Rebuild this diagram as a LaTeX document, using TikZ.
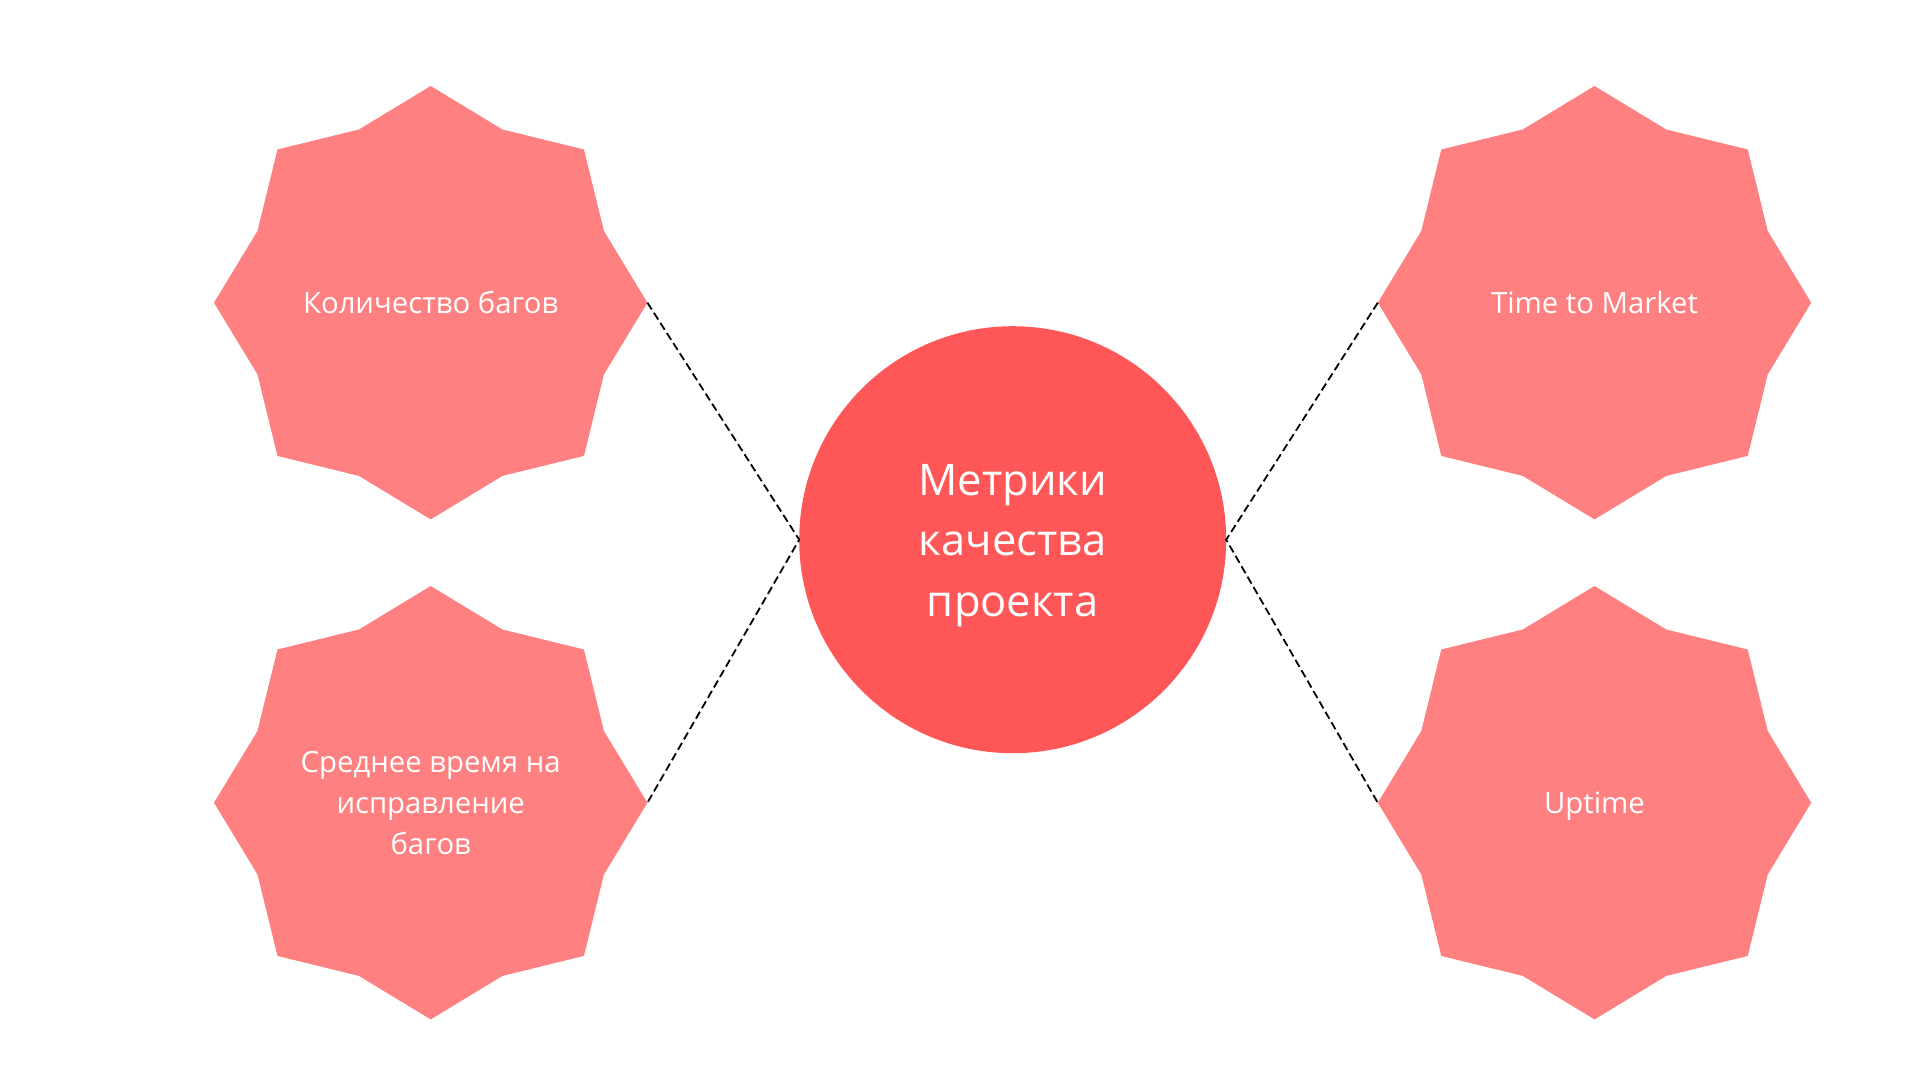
\documentclass[tikz,border=0pt]{standalone}
\usepackage{fontspec}
\setmainfont{Open Sans}
\usetikzlibrary{shapes.geometric}
\definecolor{starpink}{HTML}{FF8080}
\definecolor{corered}{HTML}{FF5757}
\begin{document}
\begin{tikzpicture}[x=1pt,y=-1pt,
  metric/.style={star, star points=8, star point ratio=1.156, minimum size=433.4pt,
    inner sep=0pt, outer sep=0pt, fill=starpink, draw=none, text=white, align=center,
    font=\fontsize{29.3}{41}\selectfont},
  core/.style={circle, minimum size=427pt, inner sep=0pt, outer sep=0pt, fill=corered,
    draw=none, text=white, align=center, font=\fontsize{43.5}{60.5}\selectfont},
  link/.style={draw=black, line width=1.8pt, dash pattern=on 8pt off 4pt}]
\useasboundingbox (0,0) rectangle (1920,1080);
\node[metric] (bugs) at (430.7,302.7) {Количество багов};
\node[metric] (fix) at (430.7,802.7) {Среднее время на\\исправление\\багов};
\node[metric] (ttm) at (1594.5,302.7) {Time to Market};
\node[metric, text depth=0pt] (up) at (1594.5,802.7) {Uptime};
\node[core] (core) at (1012.7,539.7) {\rule{0pt}{43pt}Метрики\\качества\\проекта};
\draw[link] (bugs.0) -- (core.180) -- (fix.0);
\draw[link] (ttm.180) -- (core.0) -- (up.180);
\end{tikzpicture}
\end{document}
